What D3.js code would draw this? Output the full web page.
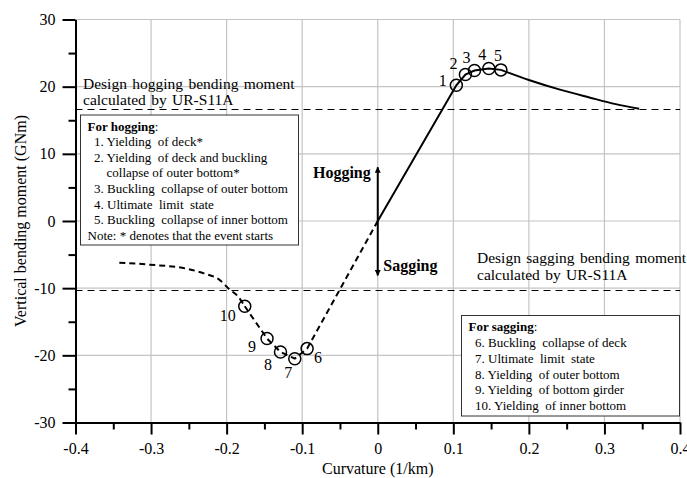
<!DOCTYPE html>
<html>
<head>
<meta charset="utf-8">
<script src="https://cdn.jsdelivr.net/npm/d3@7"></script>
<style>
  body { margin: 0; background: #fff; }
  svg text { font-family: "Liberation Serif", "DejaVu Serif", "Times New Roman", serif; fill: #000; }
</style>
</head>
<body>
<svg id="chart" width="687" height="478"></svg>
<script>
// axis ticks
var xTicks = [-0.4, -0.3, -0.2, -0.1, 0, 0.1, 0.2, 0.3, 0.4];
var xMinorTicks = [-0.35, -0.25, -0.15, -0.05, 0.05, 0.15, 0.25, 0.35];
var yTicks = [-30, -20, -10, 0, 10, 20, 30];
var yMinorTicks = [-25, -15, -5, 5, 15, 25];

// hogging curve (solid); events 1-5 sit at indices 1..5
var hogCurvature = [0, 0.104, 0.116, 0.128, 0.147, 0.163, 0.2, 0.24, 0.28, 0.315, 0.346];
var hogMoment = [0, 20.2, 21.8, 22.4, 22.7, 22.5, 21.0, 19.6, 18.4, 17.4, 16.7];
var hogEventLabels = ['1', '2', '3', '4', '5'];

// sagging curve (dashed); events 6-10 sit at indices 1..5
var sagCurvature = [0, -0.0935, -0.1098, -0.1287, -0.1465, -0.176, -0.186, -0.196, -0.209, -0.23, -0.253, -0.302, -0.342];
var sagMoment = [0, -19.0, -20.5, -19.5, -17.5, -12.7, -11.1, -10.2, -8.8, -7.8, -7.1, -6.5, -6.2];
var sagEventLabels = ['6', '7', '8', '9', '10'];

// design moments by UR-S11A
var designHogging = 16.7;
var designSagging = -10.25;

var hogNotes = [
  '1. Yielding  of deck*',
  '2. Yielding  of deck and buckling',
  'collapse of outer bottom*',
  '3. Buckling  collapse of outer bottom',
  '4. Ultimate  limit  state',
  '5. Buckling  collapse of inner bottom',
  'Note: * denotes that the event starts'
];
var sagNotes = [
  '6. Buckling  collapse of deck',
  '7. Ultimate  limit  state',
  '8. Yielding  of outer bottom',
  '9. Yielding  of bottom girder',
  '10. Yielding  of inner bottom'
];

var svg = d3.select('#chart');
var x = d3.scaleLinear().domain([-0.4, 0.4]).range([75.5, 680]);
var y = d3.scaleLinear().domain([-30, 30]).range([422.5, 19.5]);

// grid
svg.append('g').selectAll('line').data(xTicks.slice(1)).enter().append('line')
  .attr('x1', function(d){ return x(d); }).attr('x2', function(d){ return x(d); })
  .attr('y1', y(30)).attr('y2', y(-30))
  .attr('stroke', '#c4c4c4').attr('stroke-width', 1.2);
svg.append('g').selectAll('line').data(yTicks.slice(1)).enter().append('line')
  .attr('y1', function(d){ return y(d); }).attr('y2', function(d){ return y(d); })
  .attr('x1', x(-0.4)).attr('x2', x(0.4))
  .attr('stroke', '#c4c4c4').attr('stroke-width', 1.2);

// design lines
svg.append('g').selectAll('line').data([designHogging, designSagging]).enter().append('line')
  .attr('y1', function(d){ return Math.round(y(d)) + 0.5; })
  .attr('y2', function(d){ return Math.round(y(d)) + 0.5; })
  .attr('x1', x(-0.4)).attr('x2', x(0.4))
  .attr('stroke', '#000').attr('stroke-width', 1).attr('stroke-dasharray', '7,5');

// legend boxes
function noteBox(left, top, w, h, title, notes, spacing, indentOf) {
  var g = svg.append('g');
  g.append('rect').attr('x', left).attr('y', top).attr('width', w).attr('height', h)
    .attr('fill', '#fff').attr('stroke', '#333').attr('stroke-width', 1);
  var t = g.append('text').attr('x', left + 7).attr('y', top + 15.5).style('font-size', '13px');
  t.append('tspan').style('font-weight', 'bold').text(title);
  t.append('tspan').text(':');
  g.selectAll('text.note').data(notes).enter().append('text')
    .attr('class', 'note')
    .attr('x', function(d, i){ return left + indentOf(d, i); })
    .attr('y', function(d, i){ return top + 15.5 + (i + 1) * spacing; })
    .style('font-size', '13px')
    .style('white-space', 'pre')
    .text(function(d){ return d; });
}
noteBox(80.5, 115, 218, 130, 'For hogging', hogNotes, 15.6, function(d, i){
  if (d.indexOf('Note') === 0) return 7;
  if (i === 2) return 26;
  return 13.5;
});
noteBox(461.5, 315.5, 218, 100.5, 'For sagging', sagNotes, 15.85, function(){ return 13.5; });

// axes
svg.append('g').attr('transform', 'translate(0,' + y(-30) + ')')
  .call(d3.axisBottom(x).tickValues(xTicks).tickSize(12).tickSizeOuter(0).tickPadding(8)
    .tickFormat(function(d){ return String(d); }));
svg.append('g').attr('transform', 'translate(0,' + y(-30) + ')')
  .call(d3.axisBottom(x).tickValues(xMinorTicks).tickSize(7).tickSizeOuter(0).tickFormat(''))
  .select('.domain').remove();
svg.append('g').attr('transform', 'translate(' + x(-0.4) + ',0)')
  .call(d3.axisLeft(y).tickValues(yTicks).tickSize(13).tickSizeOuter(0).tickPadding(7)
    .tickFormat(function(d){ return String(d); }));
svg.append('g').attr('transform', 'translate(' + x(-0.4) + ',0)')
  .call(d3.axisLeft(y).tickValues(yMinorTicks).tickSize(7).tickSizeOuter(0).tickFormat(''))
  .select('.domain').remove();
svg.selectAll('.domain').attr('stroke', '#000').attr('stroke-width', 2);
svg.selectAll('.tick line').attr('stroke', '#000').attr('stroke-width', 2);
svg.selectAll('.tick text').style('font-family', '"Liberation Serif", "DejaVu Serif", serif')
  .style('font-size', '16px').attr('fill', '#000');

svg.append('text').attr('x', x(0)).attr('y', 474).attr('text-anchor', 'middle')
  .style('font-size', '16px').text('Curvature (1/km)');
svg.append('text').attr('transform', 'translate(25.5,' + y(0) + ') rotate(-90)')
  .attr('text-anchor', 'middle').style('font-size', '16px').text('Vertical bending moment (GNm)');

// design labels
function designLabel(left, top, lines) {
  svg.append('g').selectAll('text').data(lines).enter().append('text')
    .attr('x', left).attr('y', function(d, i){ return top + i * 16.5; })
    .style('font-size', '15.5px').style('word-spacing', '1.5px')
    .text(function(d){ return d; });
}
designLabel(83, 88.5, ['Design hogging bending moment', 'calculated by UR-S11A']);
designLabel(477, 263, ['Design sagging bending moment', 'calculated by UR-S11A']);

// curves
function drawCurve(xs, ys, split, dash) {
  var pts = xs.map(function(d, i){ return [x(d), y(ys[i])]; });
  var g = svg.append('g').attr('fill', 'none').attr('stroke', '#000').attr('stroke-width', 2)
    .attr('stroke-dasharray', dash);
  g.append('path').attr('d', d3.line().curve(d3.curveLinear)(pts.slice(0, split + 1)));
  var tail = pts.slice(split).sort(function(a, b){ return a[0] - b[0]; });
  g.append('path').attr('d', d3.line().curve(d3.curveMonotoneX)(tail));
}
drawCurve(hogCurvature, hogMoment, 5, null);
drawCurve(sagCurvature, sagMoment, 5, '6,4');

// event markers
function drawEvents(xs, ys, labels, offsets) {
  var g = svg.append('g');
  labels.forEach(function(lab, i){
    var cx = x(xs[i + 1]), cy = y(ys[i + 1]);
    g.append('circle').attr('cx', cx).attr('cy', cy).attr('r', 6)
      .attr('fill', 'none').attr('stroke', '#000').attr('stroke-width', 1.5);
    g.append('text').attr('x', cx + offsets[i][0]).attr('y', cy + offsets[i][1] + 5.5)
      .attr('text-anchor', 'middle').style('font-size', '16px').text(lab);
  });
}
drawEvents(hogCurvature, hogMoment, hogEventLabels,
  [[-13.5, -5], [-12, -11.5], [-8, -13.5], [-6.5, -14.5], [-3, -14.5]]);
drawEvents(sagCurvature, sagMoment, sagEventLabels,
  [[11, 9], [-6.5, 13.5], [-12.5, 12.5], [-15, 7.5], [-17, 9]]);

// hogging / sagging arrow
var defs = svg.append('defs');
defs.append('marker').attr('id', 'arrowHead').attr('viewBox', '0 0 10 10')
  .attr('refX', 9).attr('refY', 5).attr('markerWidth', 9).attr('markerHeight', 6)
  .attr('markerUnits', 'userSpaceOnUse').attr('orient', 'auto-start-reverse')
  .append('path').attr('d', 'M0,0 L10,5 L0,10 z').attr('fill', '#000');
svg.append('line').attr('x1', x(0)).attr('x2', x(0)).attr('y1', y(8.0)).attr('y2', y(-8.1))
  .attr('stroke', '#000').attr('stroke-width', 2)
  .attr('marker-start', 'url(#arrowHead)').attr('marker-end', 'url(#arrowHead)');
svg.append('text').attr('x', x(0) - 7).attr('y', y(8) + 10.5).attr('text-anchor', 'end')
  .style('font-size', '16px').style('font-weight', 'bold').text('Hogging');
svg.append('text').attr('x', x(0) + 5.5).attr('y', y(-8) - 4).style('font-size', '16px')
  .style('font-weight', 'bold').text('Sagging');
</script>
</body>
</html>
